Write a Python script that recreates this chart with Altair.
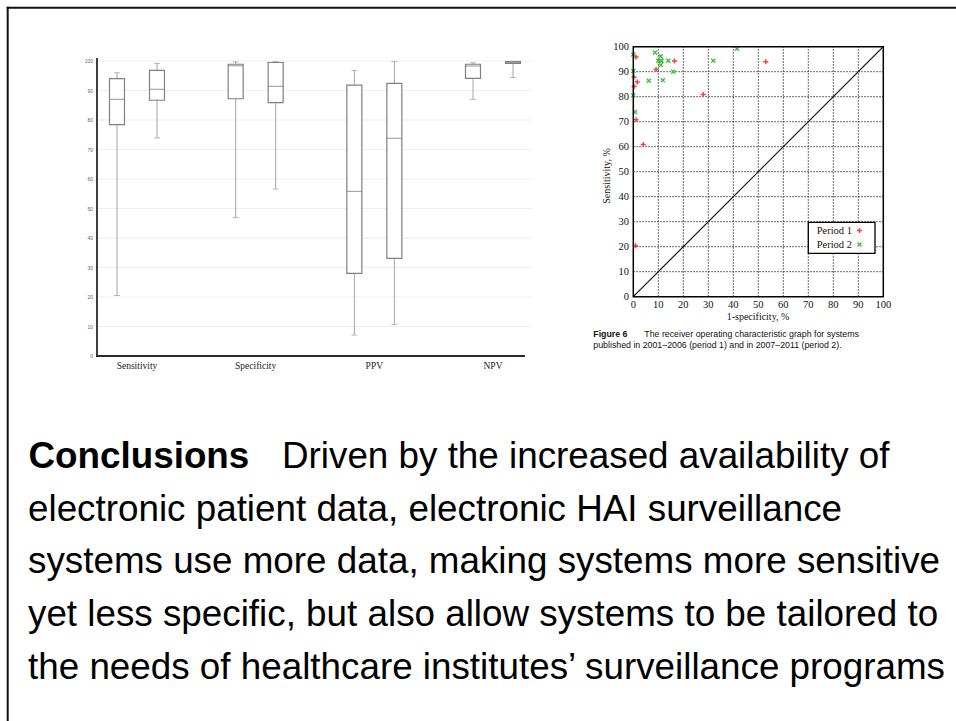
import altair as alt
import pandas as pd

# ---------------- box plot summaries (min, Q1, median, Q3, max) ----------------
measures = ["Sensitivity", "Specificity", "PPV", "NPV"]
periods = ["Period 1", "Period 2"]

p1_low    = [20.5, 46.9,  7.1, 87.0]
p1_q1     = [78.4, 87.2, 28.0, 94.1]
p1_median = [87.0, 98.4, 55.8, 98.3]
p1_q3     = [94.0, 98.9, 91.8, 98.9]
p1_high   = [96.0, 99.7, 96.8, 99.4]

p2_low    = [73.9, 56.6, 10.7, 94.4]
p2_q1     = [86.7, 85.9, 33.1, 99.2]
p2_median = [90.4, 91.4, 73.8, 99.4]
p2_q3     = [96.8, 99.5, 92.4, 99.8]
p2_high   = [99.2, 99.8, 99.8, 99.9]

box_ticks = list(range(0, 101, 10))

# ---------------- ROC scatter: 1-specificity vs sensitivity ----------------
p1_fpr  = [1.1, 0.3, 1.6, 0.3, 1.1, 4.0, 0.9, 9.1, 16.5, 28.0, 53.0]
p1_sens = [95.9, 87.9, 85.9, 84.1, 70.8, 60.9, 20.4, 90.9, 94.3, 80.9, 94.0]

p2_fpr  = [0.0, 0.0, 0.0, 0.7, 8.7, 10.0, 11.0, 11.0, 11.3, 14.0, 11.0, 16.0, 6.2, 11.8, 32.0, 41.5]
p2_sens = [96.9, 90.3, 80.5, 73.9, 97.7, 94.4, 94.4, 96.2, 94.4, 94.4, 92.7, 90.0, 86.4, 86.6, 94.4, 99.2]

roc_ticks = list(range(0, 101, 10))
roc_grid = list(range(10, 100, 10))
diagonal = [0, 100]

roc_x_title = "1-specificity, %"
roc_y_title = "Sensitivity, %"

# ---------------- caption and conclusions text ----------------
fig_label = "Figure 6"
caption_lines = [
    "The receiver operating characteristic graph for systems",
    "published in 2001\u20132006 (period 1) and in 2007\u20132011 (period 2).",
]
conc_head = "Conclusions"
conc_lines = [
    "Driven by the increased availability of",
    "electronic patient data, electronic HAI surveillance",
    "systems use more data, making systems more sensitive",
    "yet less specific, but also allow systems to be tailored to",
    "the needs of healthcare institutes\u2019 surveillance programs",
]

# ---------------- tables ----------------
rows = []
for period, lo, q1, md, q3, hi in [
    ("Period 1", p1_low, p1_q1, p1_median, p1_q3, p1_high),
    ("Period 2", p2_low, p2_q1, p2_median, p2_q3, p2_high),
]:
    for i, m in enumerate(measures):
        rows.append(dict(measure=m, period=period, low=lo[i], q1=q1[i],
                         median=md[i], q3=q3[i], high=hi[i]))
box_df = pd.DataFrame(rows)

roc_df = pd.DataFrame({
    "fpr": p1_fpr + p2_fpr,
    "sens": p1_sens + p2_sens,
    "period": ["Period 1"] * len(p1_fpr) + ["Period 2"] * len(p2_fpr),
})

one = pd.DataFrame({"k": [0]})

SERIF = "Liberation Serif"
SANS = "Liberation Sans"
BODY = "Liberation Sans"
BODY_SIZE = 36.8
CAP_SIZE = 8.8
RED = "#ff3b3b"
GREEN = "#3fbf3f"
PLUS = "M-1,0L1,0M0,-1L0,1"
XMARK = "M-0.8,-0.8L0.8,0.8M-0.8,0.8L0.8,-0.8"

# ---------------- outer frame ----------------
frame = alt.layer(
    alt.Chart(one).mark_rule(color="#111", strokeWidth=2).encode(
        x=alt.value(7.7), y=alt.value(6.7), y2=alt.value(721)),
    alt.Chart(one).mark_rule(color="#111", strokeWidth=2).encode(
        x=alt.value(6.7), x2=alt.value(956), y=alt.value(7.7)),
)

# ---------------- box plot panel ----------------
BX = alt.Scale(type="point", domain=measures, range=[137, 493], padding=0)
BY = alt.Scale(domain=[0, 100], range=[356, 61], nice=False, zero=False)


def period_boxes(period, shift):
    base = alt.Chart(box_df).transform_filter(alt.datum.period == period)
    xe = alt.X("measure:N", scale=BX, axis=None)
    whisker = base.mark_rule(color="#a4a4a4", strokeWidth=1, xOffset=shift).encode(
        x=xe, y=alt.Y("low:Q", scale=BY, axis=None), y2="high:Q")
    box = base.mark_bar(fill="white", stroke="#808080", strokeWidth=1.2,
                        size=15, xOffset=shift).encode(
        x=xe, y=alt.Y("q1:Q", scale=BY, axis=None), y2="q3:Q")
    median = base.mark_tick(color="#808080", thickness=1.2, size=15,
                            orient="horizontal", xOffset=shift).encode(
        x=xe, y=alt.Y("median:Q", scale=BY, axis=None))
    cap_hi = base.mark_tick(color="#9a9a9a", thickness=1, size=6,
                            orient="horizontal", xOffset=shift).encode(
        x=xe, y=alt.Y("high:Q", scale=BY, axis=None))
    cap_lo = base.mark_tick(color="#9a9a9a", thickness=1, size=6,
                            orient="horizontal", xOffset=shift).encode(
        x=xe, y=alt.Y("low:Q", scale=BY, axis=None))
    return [whisker, box, median, cap_hi, cap_lo]


box_grid = alt.Chart(pd.DataFrame({"v": box_ticks[1:]})).mark_rule(
    color="#efefef", strokeWidth=1).encode(
    y=alt.Y("v:Q", scale=BY, axis=None), x=alt.value(97), x2=alt.value(532))

box_tick_labels = alt.Chart(pd.DataFrame({"v": box_ticks})).mark_text(
    align="right", baseline="middle", font=SANS, fontSize=5, color="#666").encode(
    y=alt.Y("v:Q", scale=BY, axis=None), x=alt.value(93), text="v:Q")

box_yaxis = alt.Chart(one).mark_rule(color="#2a2a2a", strokeWidth=1.8).encode(
    x=alt.value(97), y=alt.value(58), y2=alt.value(357))
box_xaxis = alt.Chart(one).mark_rule(color="#2a2a2a", strokeWidth=1.8).encode(
    x=alt.value(96), x2=alt.value(525), y=alt.value(356))

box_cat_labels = alt.Chart(pd.DataFrame({"measure": measures})).mark_text(
    font=SERIF, fontSize=9.5, color="#222", baseline="alphabetic").encode(
    x=alt.X("measure:N", scale=BX, axis=None), y=alt.value(368.5), text="measure:N")

box_panel = alt.layer(
    box_grid, box_tick_labels,
    *period_boxes("Period 1", -20), *period_boxes("Period 2", 20),
    box_yaxis, box_xaxis, box_cat_labels,
)

# ---------------- ROC panel ----------------
RX = alt.Scale(domain=[0, 100], range=[633.3, 883.3], nice=False, zero=False)
RY = alt.Scale(domain=[0, 100], range=[296.7, 46.7], nice=False, zero=False)

roc_vgrid = alt.Chart(pd.DataFrame({"v": roc_grid})).mark_rule(
    color="#222", strokeWidth=0.9, strokeDash=[1.5, 1.5]).encode(
    x=alt.X("v:Q", scale=RX, axis=None),
    y=alt.Y(datum=0, scale=RY, axis=None), y2=alt.datum(100))
roc_hgrid = alt.Chart(pd.DataFrame({"v": roc_grid})).mark_rule(
    color="#222", strokeWidth=0.9, strokeDash=[1.5, 1.5]).encode(
    y=alt.Y("v:Q", scale=RY, axis=None),
    x=alt.X(datum=0, scale=RX, axis=None), x2=alt.datum(100))

roc_diag = alt.Chart(pd.DataFrame({"a": diagonal, "b": diagonal})).mark_line(
    color="#111", strokeWidth=1.2).encode(
    x=alt.X("a:Q", scale=RX, axis=None), y=alt.Y("b:Q", scale=RY, axis=None))

point_color = alt.Color("period:N", scale=alt.Scale(domain=periods, range=[RED, GREEN]), legend=None)
point_shape = alt.Shape("period:N", scale=alt.Scale(domain=periods, range=[PLUS, XMARK]), legend=None)

roc_points = alt.Chart(roc_df).mark_point(filled=False, strokeWidth=1.4, size=26, opacity=1).encode(
    x=alt.X("fpr:Q", scale=RX, axis=None), y=alt.Y("sens:Q", scale=RY, axis=None),
    color=point_color, shape=point_shape)

roc_frame = alt.Chart(one).mark_rect(fillOpacity=0, stroke="#000", strokeWidth=1.5).encode(
    x=alt.X(datum=0, scale=RX, axis=None), x2=alt.datum(100),
    y=alt.Y(datum=0, scale=RY, axis=None), y2=alt.datum(100))

roc_xlabels = alt.Chart(pd.DataFrame({"v": roc_ticks})).mark_text(
    font=SERIF, fontSize=10.5, color="#111", baseline="middle").encode(
    x=alt.X("v:Q", scale=RX, axis=None), y=alt.value(304.5), text="v:Q")
roc_ylabels = alt.Chart(pd.DataFrame({"v": roc_ticks})).mark_text(
    font=SERIF, fontSize=10.5, color="#111", align="right", baseline="middle").encode(
    y=alt.Y("v:Q", scale=RY, axis=None), x=alt.value(629), text="v:Q")

roc_xtitle = alt.Chart(pd.DataFrame({"t": [roc_x_title]})).mark_text(
    font=SERIF, fontSize=10, color="#111", baseline="middle").encode(
    x=alt.value(758), y=alt.value(316.5), text="t:N")
roc_ytitle = alt.Chart(pd.DataFrame({"t": [roc_y_title]})).mark_text(
    font=SERIF, fontSize=10, color="#111", baseline="middle", angle=270).encode(
    x=alt.value(607), y=alt.value(176), text="t:N")

roc_panel = alt.layer(
    roc_vgrid, roc_hgrid, roc_diag, roc_points, roc_frame,
    roc_xlabels, roc_ylabels, roc_xtitle, roc_ytitle,
)

# ---------------- ROC legend ----------------
LY = alt.Scale(type="point", domain=periods, range=[230.5, 244.5], padding=0)
legend_box = alt.Chart(one).mark_rect(fill="white", stroke="#000", strokeWidth=1.3).encode(
    x=alt.value(808.3), x2=alt.value(875), y=alt.value(222.3), y2=alt.value(253.3))
legend_text = alt.Chart(pd.DataFrame({"period": periods})).mark_text(
    font=SERIF, fontSize=10.5, color="#111", align="right", baseline="middle").encode(
    x=alt.value(852), y=alt.Y("period:N", scale=LY, axis=None), text="period:N")
legend_sym = alt.Chart(pd.DataFrame({"period": periods})).mark_point(
    filled=False, strokeWidth=1.4, size=26, opacity=1).encode(
    x=alt.value(859.5), y=alt.Y("period:N", scale=LY, axis=None),
    color=point_color, shape=point_shape)
legend_panel = alt.layer(legend_box, legend_text, legend_sym)

# ---------------- figure caption ----------------
CY = alt.Scale(domain=[0, 1], range=[337.4, 348.4], nice=False, zero=False)
cap_df = pd.DataFrame({"row": [0, 1], "txt": caption_lines})
cap_label = alt.Chart(pd.DataFrame({"row": [0], "txt": [fig_label]})).mark_text(
    font=SANS, fontSize=CAP_SIZE, fontWeight="bold", color="#111", align="left",
    baseline="alphabetic").encode(
    x=alt.value(593.3), y=alt.Y("row:Q", scale=CY, axis=None), text="txt:N")
cap_first = alt.Chart(cap_df).transform_filter(alt.datum.row == 0).mark_text(
    font=SANS, fontSize=CAP_SIZE, color="#111", align="left", baseline="alphabetic").encode(
    x=alt.value(644.3), y=alt.Y("row:Q", scale=CY, axis=None), text="txt:N")
cap_rest = alt.Chart(cap_df).transform_filter(alt.datum.row > 0).mark_text(
    font=SANS, fontSize=CAP_SIZE, color="#111", align="left", baseline="alphabetic").encode(
    x=alt.value(593.3), y=alt.Y("row:Q", scale=CY, axis=None), text="txt:N")
caption_panel = alt.layer(cap_label, cap_first, cap_rest)

# ---------------- conclusions paragraph ----------------
TY = alt.Scale(domain=[0, 4], range=[467.8, 678.6], nice=False, zero=False)
conc_df = pd.DataFrame({"row": list(range(len(conc_lines))), "txt": conc_lines})
conc_title = alt.Chart(pd.DataFrame({"row": [0], "txt": [conc_head]})).mark_text(
    font=BODY, fontSize=BODY_SIZE, fontWeight="bold", color="#000", align="left",
    baseline="alphabetic").encode(
    x=alt.value(28.5), y=alt.Y("row:Q", scale=TY, axis=None), text="txt:N")
conc_first = alt.Chart(conc_df).transform_filter(alt.datum.row == 0).mark_text(
    font=BODY, fontSize=BODY_SIZE, color="#000", align="left", baseline="alphabetic").encode(
    x=alt.value(282), y=alt.Y("row:Q", scale=TY, axis=None), text="txt:N")
conc_rest = alt.Chart(conc_df).transform_filter(alt.datum.row > 0).mark_text(
    font=BODY, fontSize=BODY_SIZE, color="#000", align="left", baseline="alphabetic").encode(
    x=alt.value(28), y=alt.Y("row:Q", scale=TY, axis=None), text="txt:N")
conclusion_panel = alt.layer(conc_title, conc_first, conc_rest)

chart = alt.layer(
    frame, box_panel, roc_panel, legend_panel, caption_panel, conclusion_panel,
).resolve_scale(
    x="independent", y="independent", color="independent", shape="independent",
).properties(
    width=956, height=721, padding=0,
    autosize=alt.AutoSizeParams(type="none"),
).configure_view(stroke=None)

chart.save("out.html", embed_options={"renderer": "svg", "actions": False})
